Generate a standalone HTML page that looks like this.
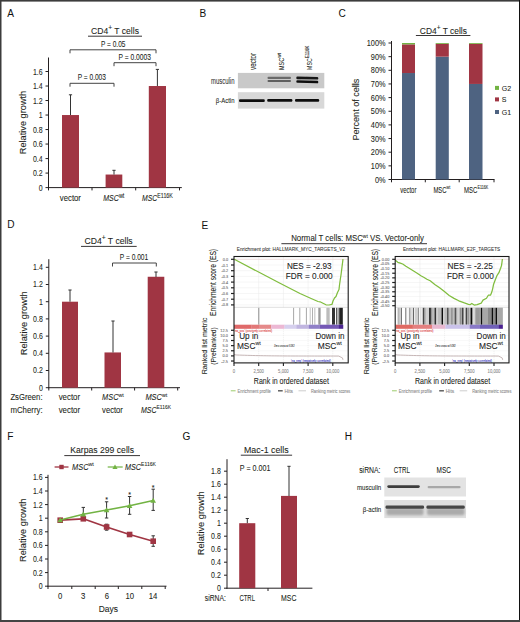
<!DOCTYPE html>
<html><head><meta charset="utf-8"><style>
html,body{margin:0;padding:0;background:#fff;}
svg{display:block;}
text{font-family:"Liberation Sans",sans-serif;}
</style></head><body>
<svg width="520" height="622" viewBox="0 0 520 622">
<rect x="0.00" y="0.00" width="520.00" height="622.00" fill="#fff"/>
<text transform="translate(7.30,17.16) scale(0.8800,1)" font-size="11.50" fill="#111" stroke="#111" stroke-width="0"><tspan y="0">A</tspan></text>
<text transform="translate(199.50,17.46) scale(0.8800,1)" font-size="11.50" fill="#111" stroke="#111" stroke-width="0"><tspan y="0">B</tspan></text>
<text transform="translate(338.50,17.46) scale(0.8800,1)" font-size="11.50" fill="#111" stroke="#111" stroke-width="0"><tspan y="0">C</tspan></text>
<text transform="translate(7.30,228.46) scale(0.8800,1)" font-size="11.50" fill="#111" stroke="#111" stroke-width="0"><tspan y="0">D</tspan></text>
<text transform="translate(201.50,228.66) scale(0.8800,1)" font-size="11.50" fill="#111" stroke="#111" stroke-width="0"><tspan y="0">E</tspan></text>
<text transform="translate(7.30,440.26) scale(0.8800,1)" font-size="11.50" fill="#111" stroke="#111" stroke-width="0"><tspan y="0">F</tspan></text>
<text transform="translate(182.50,440.26) scale(0.8800,1)" font-size="11.50" fill="#111" stroke="#111" stroke-width="0"><tspan y="0">G</tspan></text>
<text transform="translate(344.80,439.56) scale(0.8800,1)" font-size="11.50" fill="#111" stroke="#111" stroke-width="0"><tspan y="0">H</tspan></text>
<line x1="48.50" y1="57.50" x2="48.50" y2="188.10" stroke="#231f20" stroke-width="1"/>
<line x1="48.00" y1="187.60" x2="181.80" y2="187.60" stroke="#231f20" stroke-width="1"/>
<line x1="45.50" y1="187.60" x2="48.50" y2="187.60" stroke="#231f20" stroke-width="1"/>
<text transform="translate(38.73,190.59) scale(0.8000,1)" font-size="8.70" fill="#231f20" stroke="#231f20" stroke-width="0.08"><tspan y="0">0</tspan></text>
<line x1="45.50" y1="173.09" x2="48.50" y2="173.09" stroke="#231f20" stroke-width="1"/>
<text transform="translate(32.92,176.08) scale(0.8000,1)" font-size="8.70" fill="#231f20" stroke="#231f20" stroke-width="0.08"><tspan y="0">0.2</tspan></text>
<line x1="45.50" y1="158.58" x2="48.50" y2="158.58" stroke="#231f20" stroke-width="1"/>
<text transform="translate(32.92,161.57) scale(0.8000,1)" font-size="8.70" fill="#231f20" stroke="#231f20" stroke-width="0.08"><tspan y="0">0.4</tspan></text>
<line x1="45.50" y1="144.06" x2="48.50" y2="144.06" stroke="#231f20" stroke-width="1"/>
<text transform="translate(32.92,147.06) scale(0.8000,1)" font-size="8.70" fill="#231f20" stroke="#231f20" stroke-width="0.08"><tspan y="0">0.6</tspan></text>
<line x1="45.50" y1="129.55" x2="48.50" y2="129.55" stroke="#231f20" stroke-width="1"/>
<text transform="translate(32.92,132.54) scale(0.8000,1)" font-size="8.70" fill="#231f20" stroke="#231f20" stroke-width="0.08"><tspan y="0">0.8</tspan></text>
<line x1="45.50" y1="115.04" x2="48.50" y2="115.04" stroke="#231f20" stroke-width="1"/>
<text transform="translate(38.73,118.03) scale(0.8000,1)" font-size="8.70" fill="#231f20" stroke="#231f20" stroke-width="0.08"><tspan y="0">1</tspan></text>
<line x1="45.50" y1="100.53" x2="48.50" y2="100.53" stroke="#231f20" stroke-width="1"/>
<text transform="translate(32.92,103.52) scale(0.8000,1)" font-size="8.70" fill="#231f20" stroke="#231f20" stroke-width="0.08"><tspan y="0">1.2</tspan></text>
<line x1="45.50" y1="86.02" x2="48.50" y2="86.02" stroke="#231f20" stroke-width="1"/>
<text transform="translate(32.92,89.01) scale(0.8000,1)" font-size="8.70" fill="#231f20" stroke="#231f20" stroke-width="0.08"><tspan y="0">1.4</tspan></text>
<line x1="45.50" y1="71.50" x2="48.50" y2="71.50" stroke="#231f20" stroke-width="1"/>
<text transform="translate(32.92,74.50) scale(0.8000,1)" font-size="8.70" fill="#231f20" stroke="#231f20" stroke-width="0.08"><tspan y="0">1.6</tspan></text>
<line x1="48.50" y1="187.60" x2="48.50" y2="190.40" stroke="#231f20" stroke-width="1"/>
<line x1="92.00" y1="187.60" x2="92.00" y2="190.40" stroke="#231f20" stroke-width="1"/>
<line x1="135.70" y1="187.60" x2="135.70" y2="190.40" stroke="#231f20" stroke-width="1"/>
<line x1="179.50" y1="187.60" x2="179.50" y2="190.40" stroke="#231f20" stroke-width="1"/>
<rect x="62.00" y="115.04" width="17.00" height="72.56" fill="#a03543"/>
<line x1="70.50" y1="94.80" x2="70.50" y2="115.00" stroke="#333" stroke-width="1"/>
<line x1="68.90" y1="94.80" x2="72.10" y2="94.80" stroke="#333" stroke-width="1"/>
<rect x="105.60" y="174.54" width="16.70" height="13.06" fill="#a03543"/>
<line x1="114.00" y1="170.30" x2="114.00" y2="174.60" stroke="#333" stroke-width="1"/>
<line x1="112.40" y1="170.30" x2="115.60" y2="170.30" stroke="#333" stroke-width="1"/>
<rect x="148.80" y="86.02" width="17.20" height="101.58" fill="#a03543"/>
<line x1="157.40" y1="69.40" x2="157.40" y2="86.00" stroke="#333" stroke-width="1"/>
<line x1="155.80" y1="69.40" x2="159.00" y2="69.40" stroke="#333" stroke-width="1"/>
<text transform="translate(59.80,201.00) scale(0.9268,1)" font-size="8.40" fill="#231f20" stroke="#231f20" stroke-width="0.08"><tspan y="0">vector</tspan></text>
<text transform="translate(103.20,201.00) scale(0.8406,1)" font-size="8.40" fill="#231f20" stroke="#231f20" stroke-width="0.08"><tspan y="0" font-style="italic">MSC</tspan><tspan font-size="6.55" y="-3.36">wt</tspan></text>
<text transform="translate(142.10,201.00) scale(0.8137,1)" font-size="8.40" fill="#231f20" stroke="#231f20" stroke-width="0.08"><tspan y="0" font-style="italic">MSC</tspan><tspan font-size="6.55" y="-3.36">E116K</tspan></text>
<text transform="translate(25.76,122.50) rotate(-90) scale(1.0014,1)" font-size="9.20" fill="#231f20" stroke="#231f20" stroke-width="0.08" text-anchor="middle"><tspan y="0">Relative growth</tspan></text>
<text transform="translate(91.00,33.80) scale(0.8767,1)" font-size="9.80" fill="#231f20" stroke="#231f20" stroke-width="0.08"><tspan y="0">CD4</tspan><tspan font-size="7.64" y="-3.92">+</tspan><tspan y="0"> T cells</tspan></text>
<line x1="88.00" y1="36.20" x2="142.00" y2="36.20" stroke="#231f20" stroke-width="0.9"/>
<polyline points="70.00,53.30 70.00,49.80 156.00,49.80 156.00,53.30" fill="none" stroke="#444" stroke-width="1" stroke-linejoin="round" stroke-linejoin="miter"/>
<text transform="translate(101.00,47.20) scale(0.7540,1)" font-size="8.70" fill="#231f20" stroke="#231f20" stroke-width="0.08"><tspan y="0">P = 0.05</tspan></text>
<polyline points="114.00,66.20 114.00,62.70 156.00,62.70 156.00,66.20" fill="none" stroke="#444" stroke-width="1" stroke-linejoin="round" stroke-linejoin="miter"/>
<text transform="translate(118.60,59.80) scale(0.7683,1)" font-size="8.70" fill="#231f20" stroke="#231f20" stroke-width="0.08"><tspan y="0">P = 0.0003</tspan></text>
<polyline points="70.00,86.70 70.00,83.30 114.00,83.30 114.00,86.70" fill="none" stroke="#444" stroke-width="1" stroke-linejoin="round" stroke-linejoin="miter"/>
<text transform="translate(77.70,80.20) scale(0.7581,1)" font-size="8.70" fill="#231f20" stroke="#231f20" stroke-width="0.08"><tspan y="0">P = 0.003</tspan></text>
<text transform="translate(255.90,69.90) rotate(-90) scale(0.7613,1)" font-size="8.20" fill="#231f20" stroke="#231f20" stroke-width="0.08"><tspan y="0">vector</tspan></text>
<text transform="translate(283.90,69.90) rotate(-90) scale(0.6750,1)" font-size="8.00" fill="#231f20" stroke="#231f20" stroke-width="0.08"><tspan y="0">MSC</tspan></text>
<text transform="translate(280.60,57.70) rotate(-90) scale(0.9057,1)" font-size="5.30" fill="#231f20" stroke="#231f20" stroke-width="0.08"><tspan y="0">wt</tspan></text>
<text transform="translate(312.30,69.90) rotate(-90) scale(0.6525,1)" font-size="8.00" fill="#231f20" stroke="#231f20" stroke-width="0.08"><tspan y="0">MSC</tspan></text>
<text transform="translate(309.40,58.10) rotate(-90) scale(0.7990,1)" font-size="5.30" fill="#231f20" stroke="#231f20" stroke-width="0.08"><tspan y="0">E116K</tspan></text>
<defs><linearGradient id="gb1" x1="0" x2="1" y1="0" y2="0"><stop offset="0" stop-color="#dedede"/><stop offset="0.5" stop-color="#d6d6d6"/><stop offset="1" stop-color="#d2d2d2"/></linearGradient><filter id="blur1" x="-10%" y="-100%" width="120%" height="300%"><feGaussianBlur stdDeviation="0.55 0.45"/></filter><filter id="blur2" x="-10%" y="-100%" width="120%" height="300%"><feGaussianBlur stdDeviation="0.9 0.9"/></filter></defs>
<rect x="237.90" y="72.90" width="86.40" height="15.40" fill="#c9c9c9"/>
<rect x="237.90" y="92.20" width="86.40" height="16.40" fill="#d8d8d8"/>
<g filter="url(#blur1)">
<rect x="267.50" y="76.80" width="23.50" height="2.20" fill="#6a6a6a" rx="1"/>
<rect x="267.50" y="79.90" width="23.50" height="2.20" fill="#5e5e5e" rx="1"/>
<rect x="296.30" y="76.70" width="22.00" height="2.70" fill="#141414" rx="1.2" transform="rotate(1.2 307 78)"/>
<rect x="296.30" y="80.40" width="22.00" height="2.70" fill="#101010" rx="1.2" transform="rotate(1.5 307 81.6)"/>
<rect x="239.00" y="99.30" width="25.80" height="2.70" fill="#0a0a0a" rx="1.2"/>
<rect x="267.20" y="99.10" width="25.20" height="2.70" fill="#0a0a0a" rx="1.2"/>
<rect x="295.00" y="99.10" width="24.20" height="2.70" fill="#0a0a0a" rx="1.2"/>
</g>
<text transform="translate(211.00,83.80) scale(0.7090,1)" font-size="8.40" fill="#333" stroke="#333" stroke-width="0.08"><tspan y="0">musculin</tspan></text>
<text transform="translate(215.80,102.80) scale(0.7656,1)" font-size="7.80" fill="#231f20" stroke="#231f20" stroke-width="0.08"><tspan y="0">β-Actin</tspan></text>
<line x1="391.50" y1="41.00" x2="391.50" y2="180.00" stroke="#231f20" stroke-width="1"/>
<line x1="391.00" y1="179.50" x2="494.50" y2="179.50" stroke="#231f20" stroke-width="1"/>
<line x1="388.50" y1="179.50" x2="391.50" y2="179.50" stroke="#231f20" stroke-width="1"/>
<text transform="translate(374.96,182.66) scale(0.8000,1)" font-size="9.20" fill="#231f20" stroke="#231f20" stroke-width="0.08"><tspan y="0">0%</tspan></text>
<line x1="388.50" y1="165.85" x2="391.50" y2="165.85" stroke="#231f20" stroke-width="1"/>
<text transform="translate(370.87,169.01) scale(0.8000,1)" font-size="9.20" fill="#231f20" stroke="#231f20" stroke-width="0.08"><tspan y="0">10%</tspan></text>
<line x1="388.50" y1="152.20" x2="391.50" y2="152.20" stroke="#231f20" stroke-width="1"/>
<text transform="translate(370.87,155.36) scale(0.8000,1)" font-size="9.20" fill="#231f20" stroke="#231f20" stroke-width="0.08"><tspan y="0">20%</tspan></text>
<line x1="388.50" y1="138.55" x2="391.50" y2="138.55" stroke="#231f20" stroke-width="1"/>
<text transform="translate(370.87,141.71) scale(0.8000,1)" font-size="9.20" fill="#231f20" stroke="#231f20" stroke-width="0.08"><tspan y="0">30%</tspan></text>
<line x1="388.50" y1="124.90" x2="391.50" y2="124.90" stroke="#231f20" stroke-width="1"/>
<text transform="translate(370.87,128.06) scale(0.8000,1)" font-size="9.20" fill="#231f20" stroke="#231f20" stroke-width="0.08"><tspan y="0">40%</tspan></text>
<line x1="388.50" y1="111.25" x2="391.50" y2="111.25" stroke="#231f20" stroke-width="1"/>
<text transform="translate(370.87,114.41) scale(0.8000,1)" font-size="9.20" fill="#231f20" stroke="#231f20" stroke-width="0.08"><tspan y="0">50%</tspan></text>
<line x1="388.50" y1="97.60" x2="391.50" y2="97.60" stroke="#231f20" stroke-width="1"/>
<text transform="translate(370.87,100.76) scale(0.8000,1)" font-size="9.20" fill="#231f20" stroke="#231f20" stroke-width="0.08"><tspan y="0">60%</tspan></text>
<line x1="388.50" y1="83.95" x2="391.50" y2="83.95" stroke="#231f20" stroke-width="1"/>
<text transform="translate(370.87,87.11) scale(0.8000,1)" font-size="9.20" fill="#231f20" stroke="#231f20" stroke-width="0.08"><tspan y="0">70%</tspan></text>
<line x1="388.50" y1="70.30" x2="391.50" y2="70.30" stroke="#231f20" stroke-width="1"/>
<text transform="translate(370.87,73.46) scale(0.8000,1)" font-size="9.20" fill="#231f20" stroke="#231f20" stroke-width="0.08"><tspan y="0">80%</tspan></text>
<line x1="388.50" y1="56.65" x2="391.50" y2="56.65" stroke="#231f20" stroke-width="1"/>
<text transform="translate(370.87,59.81) scale(0.8000,1)" font-size="9.20" fill="#231f20" stroke="#231f20" stroke-width="0.08"><tspan y="0">90%</tspan></text>
<line x1="388.50" y1="43.00" x2="391.50" y2="43.00" stroke="#231f20" stroke-width="1"/>
<text transform="translate(366.78,46.16) scale(0.8000,1)" font-size="9.20" fill="#231f20" stroke="#231f20" stroke-width="0.08"><tspan y="0">100%</tspan></text>
<line x1="391.50" y1="179.50" x2="391.50" y2="182.30" stroke="#231f20" stroke-width="1"/>
<line x1="425.30" y1="179.50" x2="425.30" y2="182.30" stroke="#231f20" stroke-width="1"/>
<line x1="459.20" y1="179.50" x2="459.20" y2="182.30" stroke="#231f20" stroke-width="1"/>
<line x1="494.00" y1="179.50" x2="494.00" y2="182.30" stroke="#231f20" stroke-width="1"/>
<rect x="402.00" y="73.03" width="13.00" height="106.47" fill="#4e6381"/>
<rect x="402.00" y="44.37" width="13.00" height="28.66" fill="#a03543"/>
<rect x="402.00" y="43.00" width="13.00" height="1.37" fill="#72b343"/>
<rect x="435.70" y="56.65" width="13.10" height="122.85" fill="#4e6381"/>
<rect x="435.70" y="43.82" width="13.10" height="12.83" fill="#a03543"/>
<rect x="435.70" y="43.00" width="13.10" height="0.82" fill="#72b343"/>
<rect x="469.00" y="83.95" width="13.50" height="95.55" fill="#4e6381"/>
<rect x="469.00" y="43.82" width="13.50" height="40.13" fill="#a03543"/>
<rect x="469.00" y="43.00" width="13.50" height="0.82" fill="#72b343"/>
<text transform="translate(400.20,192.60) scale(0.7255,1)" font-size="8.20" fill="#231f20" stroke="#231f20" stroke-width="0.08"><tspan y="0">vector</tspan></text>
<text transform="translate(433.40,192.60) scale(0.7251,1)" font-size="8.20" fill="#231f20" stroke="#231f20" stroke-width="0.08"><tspan y="0">MSC</tspan><tspan font-size="5.08" y="-3.28">wt</tspan></text>
<text transform="translate(464.00,192.60) scale(0.7369,1)" font-size="8.20" fill="#231f20" stroke="#231f20" stroke-width="0.08"><tspan y="0">MSC</tspan><tspan font-size="5.08" y="-3.28">E116K</tspan></text>
<text transform="translate(359.10,109.60) rotate(-90) scale(1.0077,1)" font-size="9.00" fill="#231f20" stroke="#231f20" stroke-width="0.08" text-anchor="middle"><tspan y="0">Percent of cells</tspan></text>
<text transform="translate(419.80,33.80) scale(0.9600,1)" font-size="8.80" fill="#231f20" stroke="#231f20" stroke-width="0.08"><tspan y="0">CD4</tspan><tspan font-size="6.86" y="-3.52">+</tspan><tspan y="0"> T cells</tspan></text>
<line x1="415.90" y1="35.50" x2="470.40" y2="35.50" stroke="#231f20" stroke-width="0.9"/>
<rect x="495.00" y="85.90" width="4.00" height="4.00" fill="#72b343"/>
<text transform="translate(501.70,90.80) scale(0.8800,1)" font-size="8.00" fill="#231f20" stroke="#231f20" stroke-width="0.08"><tspan y="0">G2</tspan></text>
<rect x="495.00" y="97.40" width="4.00" height="4.00" fill="#a03543"/>
<text transform="translate(501.70,102.30) scale(0.8800,1)" font-size="8.00" fill="#231f20" stroke="#231f20" stroke-width="0.08"><tspan y="0">S</tspan></text>
<rect x="495.00" y="110.00" width="4.00" height="4.00" fill="#4e6381"/>
<text transform="translate(501.70,114.90) scale(0.8800,1)" font-size="8.00" fill="#231f20" stroke="#231f20" stroke-width="0.08"><tspan y="0">G1</tspan></text>
<line x1="48.80" y1="259.20" x2="48.80" y2="388.20" stroke="#231f20" stroke-width="1"/>
<line x1="48.30" y1="387.70" x2="180.00" y2="387.70" stroke="#231f20" stroke-width="1"/>
<line x1="45.80" y1="387.70" x2="48.80" y2="387.70" stroke="#231f20" stroke-width="1"/>
<text transform="translate(38.93,390.69) scale(0.8000,1)" font-size="8.70" fill="#231f20" stroke="#231f20" stroke-width="0.08"><tspan y="0">0</tspan></text>
<line x1="45.80" y1="370.50" x2="48.80" y2="370.50" stroke="#231f20" stroke-width="1"/>
<text transform="translate(33.12,373.49) scale(0.8000,1)" font-size="8.70" fill="#231f20" stroke="#231f20" stroke-width="0.08"><tspan y="0">0.2</tspan></text>
<line x1="45.80" y1="353.30" x2="48.80" y2="353.30" stroke="#231f20" stroke-width="1"/>
<text transform="translate(33.12,356.29) scale(0.8000,1)" font-size="8.70" fill="#231f20" stroke="#231f20" stroke-width="0.08"><tspan y="0">0.4</tspan></text>
<line x1="45.80" y1="336.10" x2="48.80" y2="336.10" stroke="#231f20" stroke-width="1"/>
<text transform="translate(33.12,339.09) scale(0.8000,1)" font-size="8.70" fill="#231f20" stroke="#231f20" stroke-width="0.08"><tspan y="0">0.6</tspan></text>
<line x1="45.80" y1="318.90" x2="48.80" y2="318.90" stroke="#231f20" stroke-width="1"/>
<text transform="translate(33.12,321.89) scale(0.8000,1)" font-size="8.70" fill="#231f20" stroke="#231f20" stroke-width="0.08"><tspan y="0">0.8</tspan></text>
<line x1="45.80" y1="301.70" x2="48.80" y2="301.70" stroke="#231f20" stroke-width="1"/>
<text transform="translate(38.93,304.69) scale(0.8000,1)" font-size="8.70" fill="#231f20" stroke="#231f20" stroke-width="0.08"><tspan y="0">1</tspan></text>
<line x1="45.80" y1="284.50" x2="48.80" y2="284.50" stroke="#231f20" stroke-width="1"/>
<text transform="translate(33.12,287.49) scale(0.8000,1)" font-size="8.70" fill="#231f20" stroke="#231f20" stroke-width="0.08"><tspan y="0">1.2</tspan></text>
<line x1="45.80" y1="267.30" x2="48.80" y2="267.30" stroke="#231f20" stroke-width="1"/>
<text transform="translate(33.12,270.29) scale(0.8000,1)" font-size="8.70" fill="#231f20" stroke="#231f20" stroke-width="0.08"><tspan y="0">1.4</tspan></text>
<line x1="48.80" y1="387.70" x2="48.80" y2="390.50" stroke="#231f20" stroke-width="1"/>
<line x1="91.70" y1="387.70" x2="91.70" y2="390.50" stroke="#231f20" stroke-width="1"/>
<line x1="134.60" y1="387.70" x2="134.60" y2="390.50" stroke="#231f20" stroke-width="1"/>
<line x1="177.70" y1="387.70" x2="177.70" y2="390.50" stroke="#231f20" stroke-width="1"/>
<rect x="62.00" y="301.70" width="16.00" height="86.00" fill="#a03543"/>
<line x1="70.00" y1="290.00" x2="70.00" y2="301.70" stroke="#333" stroke-width="1"/>
<line x1="68.40" y1="290.00" x2="71.60" y2="290.00" stroke="#333" stroke-width="1"/>
<rect x="104.50" y="352.44" width="16.50" height="35.26" fill="#a03543"/>
<line x1="113.00" y1="321.00" x2="113.00" y2="352.50" stroke="#333" stroke-width="1"/>
<line x1="111.40" y1="321.00" x2="114.60" y2="321.00" stroke="#333" stroke-width="1"/>
<rect x="147.70" y="276.76" width="16.60" height="110.94" fill="#a03543"/>
<line x1="156.00" y1="272.00" x2="156.00" y2="277.00" stroke="#333" stroke-width="1"/>
<line x1="154.40" y1="272.00" x2="157.60" y2="272.00" stroke="#333" stroke-width="1"/>
<polyline points="112.50,266.50 112.50,263.00 156.30,263.00 156.30,266.50" fill="none" stroke="#444" stroke-width="1" stroke-linejoin="round" stroke-linejoin="miter"/>
<text transform="translate(119.80,259.70) scale(0.7634,1)" font-size="8.70" fill="#231f20" stroke="#231f20" stroke-width="0.08"><tspan y="0">P = 0.001</tspan></text>
<text transform="translate(84.40,244.40) scale(0.8822,1)" font-size="9.80" fill="#231f20" stroke="#231f20" stroke-width="0.08"><tspan y="0">CD4</tspan><tspan font-size="7.64" y="-3.92">+</tspan><tspan y="0"> T cells</tspan></text>
<line x1="81.00" y1="246.40" x2="136.70" y2="246.40" stroke="#231f20" stroke-width="0.9"/>
<text transform="translate(26.76,323.30) rotate(-90) scale(1.0093,1)" font-size="9.20" fill="#231f20" stroke="#231f20" stroke-width="0.08" text-anchor="middle"><tspan y="0">Relative growth</tspan></text>
<text transform="translate(10.40,400.00) scale(0.8983,1)" font-size="8.60" fill="#231f20" stroke="#231f20" stroke-width="0.08"><tspan y="0">ZsGreen:</tspan></text>
<text transform="translate(10.40,412.60) scale(0.9107,1)" font-size="8.60" fill="#231f20" stroke="#231f20" stroke-width="0.08"><tspan y="0">mCherry:</tspan></text>
<text transform="translate(58.65,400.00) scale(0.9180,1)" font-size="8.60" fill="#231f20" stroke="#231f20" stroke-width="0.08"><tspan y="0">vector</tspan></text>
<text transform="translate(58.65,412.60) scale(0.9180,1)" font-size="8.60" fill="#231f20" stroke="#231f20" stroke-width="0.08"><tspan y="0">vector</tspan></text>
<text transform="translate(102.10,400.00) scale(0.8595,1)" font-size="8.60" fill="#231f20" stroke="#231f20" stroke-width="0.08"><tspan y="0" font-style="italic">MSC</tspan><tspan font-size="6.02" y="-3.44">wt</tspan></text>
<text transform="translate(102.10,412.60) scale(0.8881,1)" font-size="8.60" fill="#231f20" stroke="#231f20" stroke-width="0.08"><tspan y="0">vector</tspan></text>
<text transform="translate(145.40,400.00) scale(0.8674,1)" font-size="8.60" fill="#231f20" stroke="#231f20" stroke-width="0.08"><tspan y="0" font-style="italic">MSC</tspan><tspan font-size="6.02" y="-3.44">wt</tspan></text>
<text transform="translate(141.00,412.60) scale(0.8165,1)" font-size="8.60" fill="#231f20" stroke="#231f20" stroke-width="0.08"><tspan y="0" font-style="italic">MSC</tspan><tspan font-size="6.02" y="-3.44">E116K</tspan></text>
<text transform="translate(291.20,241.30) scale(0.8938,1)" font-size="8.80" fill="#231f20" stroke="#231f20" stroke-width="0.08"><tspan y="0">Normal T cells: MSC</tspan><tspan font-size="5.46" y="-3.52">wt</tspan><tspan y="0"> VS. Vector-only</tspan></text>
<line x1="281.40" y1="243.70" x2="427.00" y2="243.70" stroke="#231f20" stroke-width="0.9"/>
<defs><filter id="blur0" x="-5%" y="-5%" width="110%" height="110%"><feGaussianBlur stdDeviation="0.35 0"/></filter></defs>
<text transform="translate(236.70,251.10) scale(0.8559,1)" font-size="5.60" fill="#333" stroke="#333" stroke-width="0.08"><tspan y="0">Enrichment plot: HALLMARK_MYC_TARGETS_V2</tspan></text>
<line x1="234.00" y1="259.30" x2="348.20" y2="259.30" stroke="#ececec" stroke-width="0.5"/>
<line x1="234.00" y1="265.00" x2="348.20" y2="265.00" stroke="#ececec" stroke-width="0.5"/>
<line x1="234.00" y1="270.70" x2="348.20" y2="270.70" stroke="#ececec" stroke-width="0.5"/>
<line x1="234.00" y1="276.40" x2="348.20" y2="276.40" stroke="#ececec" stroke-width="0.5"/>
<line x1="234.00" y1="282.10" x2="348.20" y2="282.10" stroke="#ececec" stroke-width="0.5"/>
<line x1="234.00" y1="287.80" x2="348.20" y2="287.80" stroke="#ececec" stroke-width="0.5"/>
<line x1="234.00" y1="293.50" x2="348.20" y2="293.50" stroke="#ececec" stroke-width="0.5"/>
<line x1="234.00" y1="299.20" x2="348.20" y2="299.20" stroke="#ececec" stroke-width="0.5"/>
<line x1="234.00" y1="304.90" x2="348.20" y2="304.90" stroke="#ececec" stroke-width="0.5"/>
<line x1="258.70" y1="256.50" x2="258.70" y2="307.30" stroke="#e8e8e8" stroke-width="0.5"/>
<line x1="283.40" y1="256.50" x2="283.40" y2="307.30" stroke="#e8e8e8" stroke-width="0.5"/>
<line x1="308.10" y1="256.50" x2="308.10" y2="307.30" stroke="#e8e8e8" stroke-width="0.5"/>
<line x1="332.80" y1="256.50" x2="332.80" y2="307.30" stroke="#e8e8e8" stroke-width="0.5"/>
<line x1="234.00" y1="259.30" x2="348.20" y2="259.30" stroke="#ead0d0" stroke-width="0.6"/>
<line x1="231.00" y1="259.30" x2="234.00" y2="259.30" stroke="#222" stroke-width="1.2"/>
<text transform="translate(222.82,260.81) scale(0.8800,1)" font-size="4.40" fill="#666" stroke="#666" stroke-width="0.08"><tspan y="0">0.0</tspan></text>
<line x1="231.00" y1="265.00" x2="234.00" y2="265.00" stroke="#222" stroke-width="1.2"/>
<text transform="translate(221.53,266.51) scale(0.8800,1)" font-size="4.40" fill="#666" stroke="#666" stroke-width="0.08"><tspan y="0">-0.1</tspan></text>
<line x1="231.00" y1="270.70" x2="234.00" y2="270.70" stroke="#222" stroke-width="1.2"/>
<text transform="translate(221.53,272.21) scale(0.8800,1)" font-size="4.40" fill="#666" stroke="#666" stroke-width="0.08"><tspan y="0">-0.2</tspan></text>
<line x1="231.00" y1="276.40" x2="234.00" y2="276.40" stroke="#222" stroke-width="1.2"/>
<text transform="translate(221.53,277.91) scale(0.8800,1)" font-size="4.40" fill="#666" stroke="#666" stroke-width="0.08"><tspan y="0">-0.3</tspan></text>
<line x1="231.00" y1="282.10" x2="234.00" y2="282.10" stroke="#222" stroke-width="1.2"/>
<text transform="translate(221.53,283.61) scale(0.8800,1)" font-size="4.40" fill="#666" stroke="#666" stroke-width="0.08"><tspan y="0">-0.4</tspan></text>
<line x1="231.00" y1="287.80" x2="234.00" y2="287.80" stroke="#222" stroke-width="1.2"/>
<text transform="translate(221.53,289.31) scale(0.8800,1)" font-size="4.40" fill="#666" stroke="#666" stroke-width="0.08"><tspan y="0">-0.5</tspan></text>
<line x1="231.00" y1="293.50" x2="234.00" y2="293.50" stroke="#222" stroke-width="1.2"/>
<text transform="translate(221.53,295.01) scale(0.8800,1)" font-size="4.40" fill="#666" stroke="#666" stroke-width="0.08"><tspan y="0">-0.6</tspan></text>
<line x1="231.00" y1="299.20" x2="234.00" y2="299.20" stroke="#222" stroke-width="1.2"/>
<text transform="translate(221.53,300.71) scale(0.8800,1)" font-size="4.40" fill="#666" stroke="#666" stroke-width="0.08"><tspan y="0">-0.7</tspan></text>
<line x1="231.00" y1="304.90" x2="234.00" y2="304.90" stroke="#222" stroke-width="1.2"/>
<text transform="translate(221.53,306.41) scale(0.8800,1)" font-size="4.40" fill="#666" stroke="#666" stroke-width="0.08"><tspan y="0">-0.8</tspan></text>
<line x1="234.00" y1="307.30" x2="348.20" y2="307.30" stroke="#c8c8c8" stroke-width="0.6"/>
<g filter="url(#blur0)">
<rect x="258.30" y="307.80" width="1.00" height="16.90" fill="#888"/>
<rect x="293.10" y="307.80" width="1.00" height="16.90" fill="#a8a8a8"/>
<rect x="299.30" y="307.80" width="1.00" height="16.90" fill="#a8a8a8"/>
<rect x="305.90" y="307.80" width="1.00" height="16.90" fill="#a8a8a8"/>
<rect x="309.70" y="307.80" width="1.00" height="16.90" fill="#c4c4c4"/>
<rect x="312.00" y="307.80" width="1.00" height="16.90" fill="#b0b0b0"/>
<rect x="314.20" y="307.80" width="1.20" height="16.90" fill="#c8c8c8"/>
<rect x="318.30" y="307.80" width="2.30" height="16.90" fill="#999"/>
<rect x="326.10" y="307.80" width="4.00" height="16.90" fill="#cfcfcf"/>
<rect x="327.50" y="307.80" width="1.00" height="16.90" fill="#aaa"/>
<rect x="332.00" y="307.80" width="3.00" height="16.90" fill="#333"/>
<rect x="336.00" y="307.80" width="0.90" height="16.90" fill="#444"/>
<rect x="337.30" y="307.80" width="1.60" height="16.90" fill="#999"/>
<rect x="339.20" y="307.80" width="3.60" height="16.90" fill="#222"/>
</g>
<rect x="234.00" y="324.70" width="17.75" height="4.10" fill="#e06a6a"/>
<rect x="251.60" y="324.70" width="8.25" height="4.10" fill="#e27878"/>
<rect x="259.70" y="324.70" width="11.65" height="4.10" fill="#e58a8a"/>
<rect x="271.20" y="324.70" width="13.45" height="4.10" fill="#ecb8d4"/>
<rect x="284.50" y="324.70" width="11.95" height="4.10" fill="#d6d0ee"/>
<rect x="296.30" y="324.70" width="12.75" height="4.10" fill="#c0b5e0"/>
<rect x="308.90" y="324.70" width="10.85" height="4.10" fill="#9080c8"/>
<rect x="319.60" y="324.70" width="19.45" height="4.10" fill="#7558b5"/>
<rect x="338.90" y="324.70" width="4.35" height="4.10" fill="#4b2590"/>
<line x1="234.00" y1="330.27" x2="348.20" y2="330.27" stroke="#f0f0f0" stroke-width="0.4"/>
<line x1="234.00" y1="335.40" x2="348.20" y2="335.40" stroke="#f0f0f0" stroke-width="0.4"/>
<line x1="234.00" y1="340.52" x2="348.20" y2="340.52" stroke="#f0f0f0" stroke-width="0.4"/>
<line x1="234.00" y1="345.65" x2="348.20" y2="345.65" stroke="#f0f0f0" stroke-width="0.4"/>
<line x1="234.00" y1="350.77" x2="348.20" y2="350.77" stroke="#f0f0f0" stroke-width="0.4"/>
<line x1="234.00" y1="355.90" x2="348.20" y2="355.90" stroke="#f0f0f0" stroke-width="0.4"/>
<line x1="234.00" y1="361.02" x2="348.20" y2="361.02" stroke="#f0f0f0" stroke-width="0.4"/>
<line x1="258.70" y1="328.80" x2="258.70" y2="362.90" stroke="#dddddd" stroke-width="0.5" stroke-dasharray="1,1"/>
<line x1="283.40" y1="328.80" x2="283.40" y2="362.90" stroke="#dddddd" stroke-width="0.5" stroke-dasharray="1,1"/>
<line x1="308.10" y1="328.80" x2="308.10" y2="362.90" stroke="#dddddd" stroke-width="0.5" stroke-dasharray="1,1"/>
<line x1="332.80" y1="328.80" x2="332.80" y2="362.90" stroke="#dddddd" stroke-width="0.5" stroke-dasharray="1,1"/>
<line x1="231.00" y1="330.27" x2="234.00" y2="330.27" stroke="#222" stroke-width="1.2"/>
<text transform="translate(220.36,331.79) scale(0.8800,1)" font-size="4.40" fill="#666" stroke="#666" stroke-width="0.08"><tspan y="0">12.5</tspan></text>
<line x1="231.00" y1="335.40" x2="234.00" y2="335.40" stroke="#222" stroke-width="1.2"/>
<text transform="translate(220.36,336.91) scale(0.8800,1)" font-size="4.40" fill="#666" stroke="#666" stroke-width="0.08"><tspan y="0">10.0</tspan></text>
<line x1="231.00" y1="340.52" x2="234.00" y2="340.52" stroke="#222" stroke-width="1.2"/>
<text transform="translate(222.52,342.04) scale(0.8800,1)" font-size="4.40" fill="#666" stroke="#666" stroke-width="0.08"><tspan y="0">7.5</tspan></text>
<line x1="231.00" y1="345.65" x2="234.00" y2="345.65" stroke="#222" stroke-width="1.2"/>
<text transform="translate(222.52,347.16) scale(0.8800,1)" font-size="4.40" fill="#666" stroke="#666" stroke-width="0.08"><tspan y="0">5.0</tspan></text>
<line x1="231.00" y1="350.77" x2="234.00" y2="350.77" stroke="#222" stroke-width="1.2"/>
<text transform="translate(222.52,352.29) scale(0.8800,1)" font-size="4.40" fill="#666" stroke="#666" stroke-width="0.08"><tspan y="0">2.5</tspan></text>
<line x1="231.00" y1="355.90" x2="234.00" y2="355.90" stroke="#222" stroke-width="1.2"/>
<text transform="translate(222.52,357.41) scale(0.8800,1)" font-size="4.40" fill="#666" stroke="#666" stroke-width="0.08"><tspan y="0">0.0</tspan></text>
<line x1="231.00" y1="361.02" x2="234.00" y2="361.02" stroke="#222" stroke-width="1.2"/>
<text transform="translate(221.23,362.54) scale(0.8800,1)" font-size="4.40" fill="#666" stroke="#666" stroke-width="0.08"><tspan y="0">-2.5</tspan></text>
<polyline points="234.00,354.60 236.68,354.97 239.37,355.07 242.05,355.17 244.74,355.26 247.42,355.35 250.10,355.42 252.79,355.49 255.47,355.56 258.16,355.62 260.84,355.67 263.53,355.72 266.21,355.76 268.89,355.80 271.58,355.84 274.26,355.87 276.95,355.89 279.63,355.92 282.31,355.94 285.00,355.96 287.68,355.97 290.37,355.99 293.05,356.00 295.73,356.01 298.42,356.02 301.10,356.03 303.79,356.03 306.47,356.04 309.16,356.04 311.84,356.04 314.52,356.05 317.21,356.05 319.89,356.05 322.58,356.05 325.26,356.05 327.94,356.05 330.63,356.05 333.31,356.05 336.00,356.05 338.68,356.05 342.45,357.90 343.00,359.90" fill="none" stroke="#bfaeae" stroke-width="0.9" stroke-linejoin="round"/>
<text transform="translate(234.50,331.80) scale(0.7419,1)" font-size="3.80" fill="#e04545" stroke="#e04545" stroke-width="0.08"><tspan y="0">'na_pos' (positively correlated)</tspan></text>
<text transform="translate(291.00,362.00) scale(0.7999,1)" font-size="3.60" fill="#3535c0" stroke="#3535c0" stroke-width="0.08"><tspan y="0">'na_neg' (negatively correlated)</tspan></text>
<text transform="translate(274.00,347.40) scale(0.6863,1)" font-size="3.60" fill="#333" stroke="#333" stroke-width="0.08"><tspan y="0">Zero cross at 5182</tspan></text>
<text transform="translate(239.20,338.60) scale(0.9297,1)" font-size="8.80" fill="#222" stroke="#222" stroke-width="0.08"><tspan y="0">Up in</tspan></text>
<text transform="translate(236.90,348.70) scale(0.9475,1)" font-size="8.80" fill="#222" stroke="#222" stroke-width="0.08"><tspan y="0">MSC</tspan><tspan font-size="5.46" y="-3.52">wt</tspan></text>
<text transform="translate(315.40,338.60) scale(0.9184,1)" font-size="8.80" fill="#222" stroke="#222" stroke-width="0.08"><tspan y="0">Down in</tspan></text>
<text transform="translate(317.70,348.70) scale(0.9595,1)" font-size="8.80" fill="#222" stroke="#222" stroke-width="0.08"><tspan y="0">MSC</tspan><tspan font-size="5.46" y="-3.52">wt</tspan></text>
<line x1="234.00" y1="362.90" x2="234.00" y2="365.90" stroke="#222" stroke-width="1.1"/>
<text transform="translate(232.83,373.30) scale(0.8800,1)" font-size="4.80" fill="#888" stroke="#888" stroke-width="0.08"><tspan y="0">0</tspan></text>
<line x1="258.70" y1="362.90" x2="258.70" y2="365.90" stroke="#222" stroke-width="1.1"/>
<text transform="translate(253.41,373.30) scale(0.8800,1)" font-size="4.80" fill="#888" stroke="#888" stroke-width="0.08"><tspan y="0">2,500</tspan></text>
<line x1="283.40" y1="362.90" x2="283.40" y2="365.90" stroke="#222" stroke-width="1.1"/>
<text transform="translate(278.11,373.30) scale(0.8800,1)" font-size="4.80" fill="#888" stroke="#888" stroke-width="0.08"><tspan y="0">5,000</tspan></text>
<line x1="308.10" y1="362.90" x2="308.10" y2="365.90" stroke="#222" stroke-width="1.1"/>
<text transform="translate(302.81,373.30) scale(0.8800,1)" font-size="4.80" fill="#888" stroke="#888" stroke-width="0.08"><tspan y="0">7,500</tspan></text>
<line x1="332.80" y1="362.90" x2="332.80" y2="365.90" stroke="#222" stroke-width="1.1"/>
<text transform="translate(326.34,373.30) scale(0.8800,1)" font-size="4.80" fill="#888" stroke="#888" stroke-width="0.08"><tspan y="0">10,000</tspan></text>
<polyline points="234.30,259.30 260.00,272.80 280.00,283.30 300.00,293.50 310.00,298.00 318.00,301.50 320.00,301.80 326.00,304.80 329.00,305.00 332.00,304.30 333.00,301.00 334.50,298.00 336.00,296.50 337.50,292.50 339.00,289.50 339.50,285.00 340.50,278.00 341.00,275.00 342.00,267.00 343.00,259.20" fill="none" stroke="#80bd3e" stroke-width="1.25" stroke-linejoin="round"/>
<rect x="234.00" y="256.50" width="114.20" height="106.40" fill="none" stroke="#1a1a1a" stroke-width="1.1"/>
<text transform="translate(287.00,268.60) scale(0.9472,1)" font-size="8.60" fill="#222" stroke="#222" stroke-width="0.08"><tspan y="0">NES = -2.93</tspan></text>
<text transform="translate(285.80,278.80) scale(0.9592,1)" font-size="8.60" fill="#222" stroke="#222" stroke-width="0.08"><tspan y="0">FDR = 0.000</tspan></text>
<text transform="translate(216.39,282.40) rotate(-90) scale(0.7929,1)" font-size="8.40" fill="#231f20" stroke="#231f20" stroke-width="0.08" text-anchor="middle"><tspan y="0">Enrichment score (ES)</tspan></text>
<text transform="translate(207.32,346.00) rotate(-90) scale(0.9031,1)" font-size="7.90" fill="#231f20" stroke="#231f20" stroke-width="0.08" text-anchor="middle"><tspan y="0">Ranked list metric</tspan></text>
<text transform="translate(216.12,346.00) rotate(-90) scale(0.8373,1)" font-size="7.90" fill="#231f20" stroke="#231f20" stroke-width="0.08" text-anchor="middle"><tspan y="0">(PreRanked)</tspan></text>
<text transform="translate(253.80,383.80) scale(0.7495,1)" font-size="9.40" fill="#231f20" stroke="#231f20" stroke-width="0.08"><tspan y="0">Rank in ordered dataset</tspan></text>
<line x1="230.80" y1="390.80" x2="235.60" y2="390.80" stroke="#9ccc6c" stroke-width="1"/>
<text transform="translate(237.50,392.60) scale(0.8313,1)" font-size="5.00" fill="#888" stroke="#888" stroke-width="0.08"><tspan y="0">Enrichment profile</tspan></text>
<line x1="278.00" y1="390.80" x2="282.70" y2="390.80" stroke="#555" stroke-width="1.4"/>
<text transform="translate(284.60,392.60) scale(0.9755,1)" font-size="5.00" fill="#888" stroke="#888" stroke-width="0.08"><tspan y="0">Hits</tspan></text>
<line x1="298.50" y1="390.80" x2="306.00" y2="390.80" stroke="#aaa" stroke-width="0.6"/>
<text transform="translate(311.00,392.60) scale(0.7966,1)" font-size="5.00" fill="#888" stroke="#888" stroke-width="0.08"><tspan y="0">Ranking metric scores</tspan></text>
<text transform="translate(402.90,251.10) scale(0.8506,1)" font-size="5.60" fill="#333" stroke="#333" stroke-width="0.08"><tspan y="0">Enrichment plot: HALLMARK_E2F_TARGETS</tspan></text>
<line x1="395.20" y1="259.30" x2="509.00" y2="259.30" stroke="#ececec" stroke-width="0.5"/>
<line x1="395.20" y1="263.94" x2="509.00" y2="263.94" stroke="#ececec" stroke-width="0.5"/>
<line x1="395.20" y1="268.58" x2="509.00" y2="268.58" stroke="#ececec" stroke-width="0.5"/>
<line x1="395.20" y1="273.22" x2="509.00" y2="273.22" stroke="#ececec" stroke-width="0.5"/>
<line x1="395.20" y1="277.86" x2="509.00" y2="277.86" stroke="#ececec" stroke-width="0.5"/>
<line x1="395.20" y1="282.50" x2="509.00" y2="282.50" stroke="#ececec" stroke-width="0.5"/>
<line x1="395.20" y1="287.14" x2="509.00" y2="287.14" stroke="#ececec" stroke-width="0.5"/>
<line x1="395.20" y1="291.78" x2="509.00" y2="291.78" stroke="#ececec" stroke-width="0.5"/>
<line x1="395.20" y1="296.42" x2="509.00" y2="296.42" stroke="#ececec" stroke-width="0.5"/>
<line x1="395.20" y1="301.06" x2="509.00" y2="301.06" stroke="#ececec" stroke-width="0.5"/>
<line x1="395.20" y1="305.70" x2="509.00" y2="305.70" stroke="#ececec" stroke-width="0.5"/>
<line x1="419.90" y1="256.50" x2="419.90" y2="307.30" stroke="#e8e8e8" stroke-width="0.5"/>
<line x1="444.60" y1="256.50" x2="444.60" y2="307.30" stroke="#e8e8e8" stroke-width="0.5"/>
<line x1="469.30" y1="256.50" x2="469.30" y2="307.30" stroke="#e8e8e8" stroke-width="0.5"/>
<line x1="494.00" y1="256.50" x2="494.00" y2="307.30" stroke="#e8e8e8" stroke-width="0.5"/>
<line x1="395.20" y1="259.30" x2="509.00" y2="259.30" stroke="#ead0d0" stroke-width="0.6"/>
<line x1="392.20" y1="259.30" x2="395.20" y2="259.30" stroke="#222" stroke-width="1.2"/>
<text transform="translate(381.86,260.81) scale(0.8800,1)" font-size="4.40" fill="#666" stroke="#666" stroke-width="0.08"><tspan y="0">0.00</tspan></text>
<line x1="392.20" y1="263.94" x2="395.20" y2="263.94" stroke="#222" stroke-width="1.2"/>
<text transform="translate(380.57,265.45) scale(0.8800,1)" font-size="4.40" fill="#666" stroke="#666" stroke-width="0.08"><tspan y="0">-0.05</tspan></text>
<line x1="392.20" y1="268.58" x2="395.20" y2="268.58" stroke="#222" stroke-width="1.2"/>
<text transform="translate(380.57,270.09) scale(0.8800,1)" font-size="4.40" fill="#666" stroke="#666" stroke-width="0.08"><tspan y="0">-0.10</tspan></text>
<line x1="392.20" y1="273.22" x2="395.20" y2="273.22" stroke="#222" stroke-width="1.2"/>
<text transform="translate(380.57,274.73) scale(0.8800,1)" font-size="4.40" fill="#666" stroke="#666" stroke-width="0.08"><tspan y="0">-0.15</tspan></text>
<line x1="392.20" y1="277.86" x2="395.20" y2="277.86" stroke="#222" stroke-width="1.2"/>
<text transform="translate(380.57,279.37) scale(0.8800,1)" font-size="4.40" fill="#666" stroke="#666" stroke-width="0.08"><tspan y="0">-0.20</tspan></text>
<line x1="392.20" y1="282.50" x2="395.20" y2="282.50" stroke="#222" stroke-width="1.2"/>
<text transform="translate(380.57,284.01) scale(0.8800,1)" font-size="4.40" fill="#666" stroke="#666" stroke-width="0.08"><tspan y="0">-0.25</tspan></text>
<line x1="392.20" y1="287.14" x2="395.20" y2="287.14" stroke="#222" stroke-width="1.2"/>
<text transform="translate(380.57,288.65) scale(0.8800,1)" font-size="4.40" fill="#666" stroke="#666" stroke-width="0.08"><tspan y="0">-0.30</tspan></text>
<line x1="392.20" y1="291.78" x2="395.20" y2="291.78" stroke="#222" stroke-width="1.2"/>
<text transform="translate(380.57,293.29) scale(0.8800,1)" font-size="4.40" fill="#666" stroke="#666" stroke-width="0.08"><tspan y="0">-0.35</tspan></text>
<line x1="392.20" y1="296.42" x2="395.20" y2="296.42" stroke="#222" stroke-width="1.2"/>
<text transform="translate(380.57,297.93) scale(0.8800,1)" font-size="4.40" fill="#666" stroke="#666" stroke-width="0.08"><tspan y="0">-0.40</tspan></text>
<line x1="392.20" y1="301.06" x2="395.20" y2="301.06" stroke="#222" stroke-width="1.2"/>
<text transform="translate(380.57,302.57) scale(0.8800,1)" font-size="4.40" fill="#666" stroke="#666" stroke-width="0.08"><tspan y="0">-0.45</tspan></text>
<line x1="392.20" y1="305.70" x2="395.20" y2="305.70" stroke="#222" stroke-width="1.2"/>
<text transform="translate(380.57,307.21) scale(0.8800,1)" font-size="4.40" fill="#666" stroke="#666" stroke-width="0.08"><tspan y="0">-0.50</tspan></text>
<line x1="395.20" y1="307.30" x2="509.00" y2="307.30" stroke="#c8c8c8" stroke-width="0.6"/>
<g filter="url(#blur0)">
<rect x="429.50" y="307.80" width="73.20" height="16.90" fill="#bdbdbd"/>
<rect x="397.70" y="307.80" width="1.00" height="16.90" fill="#999"/>
<rect x="399.10" y="307.80" width="0.80" height="16.90" fill="#bbb"/>
<rect x="400.70" y="307.80" width="1.20" height="16.90" fill="#666"/>
<rect x="405.00" y="307.80" width="1.00" height="16.90" fill="#999"/>
<rect x="406.30" y="307.80" width="0.80" height="16.90" fill="#bbb"/>
<rect x="408.90" y="307.80" width="1.00" height="16.90" fill="#999"/>
<rect x="410.10" y="307.80" width="0.80" height="16.90" fill="#bbb"/>
<rect x="411.60" y="307.80" width="0.80" height="16.90" fill="#aaa"/>
<rect x="413.10" y="307.80" width="1.00" height="16.90" fill="#555"/>
<rect x="415.00" y="307.80" width="3.00" height="16.90" fill="#d0d0d0"/>
<rect x="418.10" y="307.80" width="1.00" height="16.90" fill="#888"/>
<rect x="420.50" y="307.80" width="0.80" height="16.90" fill="#bbb"/>
<rect x="422.70" y="307.80" width="1.80" height="16.90" fill="#444"/>
<rect x="424.80" y="307.80" width="0.80" height="16.90" fill="#888"/>
<rect x="426.00" y="307.80" width="3.00" height="16.90" fill="#d0d0d0"/>
<rect x="429.00" y="307.80" width="1.90" height="16.90" fill="#333"/>
<rect x="431.30" y="307.80" width="0.80" height="16.90" fill="#888"/>
<rect x="434.60" y="307.80" width="1.60" height="16.90" fill="#333"/>
<rect x="436.50" y="307.80" width="1.00" height="16.90" fill="#e8e8e8"/>
<rect x="441.60" y="307.80" width="1.40" height="16.90" fill="#111"/>
<rect x="443.40" y="307.80" width="1.00" height="16.90" fill="#dcdcdc"/>
<rect x="447.00" y="307.80" width="1.50" height="16.90" fill="#555"/>
<rect x="451.30" y="307.80" width="1.20" height="16.90" fill="#888"/>
<rect x="454.70" y="307.80" width="1.50" height="16.90" fill="#555"/>
<rect x="457.50" y="307.80" width="1.20" height="16.90" fill="#ddd"/>
<rect x="460.20" y="307.80" width="1.20" height="16.90" fill="#888"/>
<rect x="462.00" y="307.80" width="1.40" height="16.90" fill="#444"/>
<rect x="464.00" y="307.80" width="1.20" height="16.90" fill="#ddd"/>
<rect x="465.80" y="307.80" width="1.40" height="16.90" fill="#444"/>
<rect x="468.00" y="307.80" width="1.00" height="16.90" fill="#999"/>
<rect x="470.60" y="307.80" width="1.60" height="16.90" fill="#111"/>
<rect x="473.00" y="307.80" width="1.80" height="16.90" fill="#ddd"/>
<rect x="475.60" y="307.80" width="4.20" height="16.90" fill="#9a9a9a"/>
<rect x="480.80" y="307.80" width="1.50" height="16.90" fill="#111"/>
<rect x="482.60" y="307.80" width="5.40" height="16.90" fill="#a8a8a8"/>
<rect x="488.00" y="307.80" width="3.80" height="16.90" fill="#8a8a8a"/>
<rect x="491.70" y="307.80" width="1.60" height="16.90" fill="#111"/>
<rect x="493.60" y="307.80" width="2.00" height="16.90" fill="#8a8a8a"/>
<rect x="495.60" y="307.80" width="1.50" height="16.90" fill="#111"/>
<rect x="497.20" y="307.80" width="5.50" height="16.90" fill="#a8a8a8"/>
</g>
<rect x="395.50" y="324.70" width="17.45" height="4.10" fill="#e06a62"/>
<rect x="412.80" y="324.70" width="19.35" height="4.10" fill="#e48080"/>
<rect x="432.00" y="324.70" width="13.55" height="4.10" fill="#e8b8d0"/>
<rect x="445.40" y="324.70" width="24.45" height="4.10" fill="#cac2ea"/>
<rect x="469.70" y="324.70" width="10.45" height="4.10" fill="#8a7ac8"/>
<rect x="480.00" y="324.70" width="18.95" height="4.10" fill="#7060b8"/>
<rect x="498.80" y="324.70" width="4.05" height="4.10" fill="#4a2090"/>
<line x1="395.20" y1="330.27" x2="509.00" y2="330.27" stroke="#f0f0f0" stroke-width="0.4"/>
<line x1="395.20" y1="335.40" x2="509.00" y2="335.40" stroke="#f0f0f0" stroke-width="0.4"/>
<line x1="395.20" y1="340.52" x2="509.00" y2="340.52" stroke="#f0f0f0" stroke-width="0.4"/>
<line x1="395.20" y1="345.65" x2="509.00" y2="345.65" stroke="#f0f0f0" stroke-width="0.4"/>
<line x1="395.20" y1="350.77" x2="509.00" y2="350.77" stroke="#f0f0f0" stroke-width="0.4"/>
<line x1="395.20" y1="355.90" x2="509.00" y2="355.90" stroke="#f0f0f0" stroke-width="0.4"/>
<line x1="395.20" y1="361.02" x2="509.00" y2="361.02" stroke="#f0f0f0" stroke-width="0.4"/>
<line x1="419.90" y1="328.80" x2="419.90" y2="362.90" stroke="#dddddd" stroke-width="0.5" stroke-dasharray="1,1"/>
<line x1="444.60" y1="328.80" x2="444.60" y2="362.90" stroke="#dddddd" stroke-width="0.5" stroke-dasharray="1,1"/>
<line x1="469.30" y1="328.80" x2="469.30" y2="362.90" stroke="#dddddd" stroke-width="0.5" stroke-dasharray="1,1"/>
<line x1="494.00" y1="328.80" x2="494.00" y2="362.90" stroke="#dddddd" stroke-width="0.5" stroke-dasharray="1,1"/>
<line x1="392.20" y1="330.27" x2="395.20" y2="330.27" stroke="#222" stroke-width="1.2"/>
<text transform="translate(381.56,331.79) scale(0.8800,1)" font-size="4.40" fill="#666" stroke="#666" stroke-width="0.08"><tspan y="0">12.5</tspan></text>
<line x1="392.20" y1="335.40" x2="395.20" y2="335.40" stroke="#222" stroke-width="1.2"/>
<text transform="translate(381.56,336.91) scale(0.8800,1)" font-size="4.40" fill="#666" stroke="#666" stroke-width="0.08"><tspan y="0">10.0</tspan></text>
<line x1="392.20" y1="340.52" x2="395.20" y2="340.52" stroke="#222" stroke-width="1.2"/>
<text transform="translate(383.72,342.04) scale(0.8800,1)" font-size="4.40" fill="#666" stroke="#666" stroke-width="0.08"><tspan y="0">7.5</tspan></text>
<line x1="392.20" y1="345.65" x2="395.20" y2="345.65" stroke="#222" stroke-width="1.2"/>
<text transform="translate(383.72,347.16) scale(0.8800,1)" font-size="4.40" fill="#666" stroke="#666" stroke-width="0.08"><tspan y="0">5.0</tspan></text>
<line x1="392.20" y1="350.77" x2="395.20" y2="350.77" stroke="#222" stroke-width="1.2"/>
<text transform="translate(383.72,352.29) scale(0.8800,1)" font-size="4.40" fill="#666" stroke="#666" stroke-width="0.08"><tspan y="0">2.5</tspan></text>
<line x1="392.20" y1="355.90" x2="395.20" y2="355.90" stroke="#222" stroke-width="1.2"/>
<text transform="translate(383.72,357.41) scale(0.8800,1)" font-size="4.40" fill="#666" stroke="#666" stroke-width="0.08"><tspan y="0">0.0</tspan></text>
<line x1="392.20" y1="361.02" x2="395.20" y2="361.02" stroke="#222" stroke-width="1.2"/>
<text transform="translate(382.43,362.54) scale(0.8800,1)" font-size="4.40" fill="#666" stroke="#666" stroke-width="0.08"><tspan y="0">-2.5</tspan></text>
<polyline points="395.20,354.60 397.85,354.97 400.49,355.07 403.14,355.17 405.79,355.26 408.44,355.35 411.08,355.42 413.73,355.49 416.38,355.56 419.02,355.62 421.67,355.67 424.32,355.72 426.97,355.76 429.61,355.80 432.26,355.84 434.91,355.87 437.56,355.89 440.20,355.92 442.85,355.94 445.50,355.96 448.14,355.97 450.79,355.99 453.44,356.00 456.09,356.01 458.73,356.02 461.38,356.03 464.03,356.03 466.67,356.04 469.32,356.04 471.97,356.04 474.62,356.05 477.26,356.05 479.91,356.05 482.56,356.05 485.20,356.05 487.85,356.05 490.50,356.05 493.15,356.05 495.79,356.05 498.44,356.05 502.16,357.90 502.70,359.90" fill="none" stroke="#bfaeae" stroke-width="0.9" stroke-linejoin="round"/>
<text transform="translate(395.70,331.80) scale(0.7419,1)" font-size="3.80" fill="#e04545" stroke="#e04545" stroke-width="0.08"><tspan y="0">'na_pos' (positively correlated)</tspan></text>
<text transform="translate(452.20,362.00) scale(0.7999,1)" font-size="3.60" fill="#3535c0" stroke="#3535c0" stroke-width="0.08"><tspan y="0">'na_neg' (negatively correlated)</tspan></text>
<text transform="translate(435.20,347.40) scale(0.6863,1)" font-size="3.60" fill="#333" stroke="#333" stroke-width="0.08"><tspan y="0">Zero cross at 5182</tspan></text>
<text transform="translate(400.40,338.60) scale(0.9297,1)" font-size="8.80" fill="#222" stroke="#222" stroke-width="0.08"><tspan y="0">Up in</tspan></text>
<text transform="translate(398.10,348.70) scale(0.9475,1)" font-size="8.80" fill="#222" stroke="#222" stroke-width="0.08"><tspan y="0">MSC</tspan><tspan font-size="5.46" y="-3.52">wt</tspan></text>
<text transform="translate(476.60,338.60) scale(0.9184,1)" font-size="8.80" fill="#222" stroke="#222" stroke-width="0.08"><tspan y="0">Down in</tspan></text>
<text transform="translate(478.90,348.70) scale(0.9595,1)" font-size="8.80" fill="#222" stroke="#222" stroke-width="0.08"><tspan y="0">MSC</tspan><tspan font-size="5.46" y="-3.52">wt</tspan></text>
<line x1="395.20" y1="362.90" x2="395.20" y2="365.90" stroke="#222" stroke-width="1.1"/>
<text transform="translate(394.03,373.30) scale(0.8800,1)" font-size="4.80" fill="#888" stroke="#888" stroke-width="0.08"><tspan y="0">0</tspan></text>
<line x1="419.90" y1="362.90" x2="419.90" y2="365.90" stroke="#222" stroke-width="1.1"/>
<text transform="translate(414.61,373.30) scale(0.8800,1)" font-size="4.80" fill="#888" stroke="#888" stroke-width="0.08"><tspan y="0">2,500</tspan></text>
<line x1="444.60" y1="362.90" x2="444.60" y2="365.90" stroke="#222" stroke-width="1.1"/>
<text transform="translate(439.31,373.30) scale(0.8800,1)" font-size="4.80" fill="#888" stroke="#888" stroke-width="0.08"><tspan y="0">5,000</tspan></text>
<line x1="469.30" y1="362.90" x2="469.30" y2="365.90" stroke="#222" stroke-width="1.1"/>
<text transform="translate(464.01,373.30) scale(0.8800,1)" font-size="4.80" fill="#888" stroke="#888" stroke-width="0.08"><tspan y="0">7,500</tspan></text>
<line x1="494.00" y1="362.90" x2="494.00" y2="365.90" stroke="#222" stroke-width="1.1"/>
<text transform="translate(487.54,373.30) scale(0.8800,1)" font-size="4.80" fill="#888" stroke="#888" stroke-width="0.08"><tspan y="0">10,000</tspan></text>
<polyline points="395.40,260.30 397.80,262.30 400.30,263.10 402.70,264.00 405.90,266.30 409.20,268.30 413.20,270.80 417.20,273.20 421.30,276.00 423.70,277.20 426.90,279.20 430.20,280.80 434.80,284.40 439.60,287.80 444.40,291.60 449.20,295.50 454.00,298.40 458.80,300.80 463.70,302.70 468.50,304.40 470.40,304.60 471.80,303.50 474.20,305.10 477.10,304.60 478.50,304.10 481.20,303.20 483.00,300.10 486.50,298.30 488.30,295.20 490.50,295.20 491.80,292.10 492.70,288.60 493.60,284.20 495.30,279.80 497.10,275.30 498.90,272.70 500.60,268.30 501.50,265.60 502.00,262.10 502.40,259.00" fill="none" stroke="#80bd3e" stroke-width="1.25" stroke-linejoin="round"/>
<rect x="395.20" y="256.50" width="113.80" height="106.40" fill="none" stroke="#1a1a1a" stroke-width="1.1"/>
<text transform="translate(447.50,268.60) scale(0.9642,1)" font-size="8.60" fill="#222" stroke="#222" stroke-width="0.08"><tspan y="0">NES = -2.25</tspan></text>
<text transform="translate(447.00,278.80) scale(0.9572,1)" font-size="8.60" fill="#222" stroke="#222" stroke-width="0.08"><tspan y="0">FDR = 0.000</tspan></text>
<text transform="translate(377.59,282.40) rotate(-90) scale(0.7929,1)" font-size="8.40" fill="#231f20" stroke="#231f20" stroke-width="0.08" text-anchor="middle"><tspan y="0">Enrichment score (ES)</tspan></text>
<text transform="translate(368.52,346.00) rotate(-90) scale(0.9031,1)" font-size="7.90" fill="#231f20" stroke="#231f20" stroke-width="0.08" text-anchor="middle"><tspan y="0">Ranked list metric</tspan></text>
<text transform="translate(377.32,346.00) rotate(-90) scale(0.8373,1)" font-size="7.90" fill="#231f20" stroke="#231f20" stroke-width="0.08" text-anchor="middle"><tspan y="0">(PreRanked)</tspan></text>
<text transform="translate(415.00,383.80) scale(0.7495,1)" font-size="9.40" fill="#231f20" stroke="#231f20" stroke-width="0.08"><tspan y="0">Rank in ordered dataset</tspan></text>
<line x1="392.00" y1="390.80" x2="396.80" y2="390.80" stroke="#9ccc6c" stroke-width="1"/>
<text transform="translate(398.70,392.60) scale(0.8313,1)" font-size="5.00" fill="#888" stroke="#888" stroke-width="0.08"><tspan y="0">Enrichment profile</tspan></text>
<line x1="439.20" y1="390.80" x2="443.90" y2="390.80" stroke="#555" stroke-width="1.4"/>
<text transform="translate(445.80,392.60) scale(0.9755,1)" font-size="5.00" fill="#888" stroke="#888" stroke-width="0.08"><tspan y="0">Hits</tspan></text>
<line x1="459.70" y1="390.80" x2="467.20" y2="390.80" stroke="#aaa" stroke-width="0.6"/>
<text transform="translate(472.20,392.60) scale(0.7966,1)" font-size="5.00" fill="#888" stroke="#888" stroke-width="0.08"><tspan y="0">Ranking metric scores</tspan></text>
<line x1="48.00" y1="474.80" x2="48.00" y2="586.70" stroke="#231f20" stroke-width="1"/>
<line x1="47.50" y1="586.20" x2="166.50" y2="586.20" stroke="#231f20" stroke-width="1"/>
<line x1="45.00" y1="586.20" x2="48.00" y2="586.20" stroke="#231f20" stroke-width="1"/>
<text transform="translate(38.73,589.19) scale(0.8000,1)" font-size="8.70" fill="#231f20" stroke="#231f20" stroke-width="0.08"><tspan y="0">0</tspan></text>
<line x1="45.00" y1="572.60" x2="48.00" y2="572.60" stroke="#231f20" stroke-width="1"/>
<text transform="translate(32.92,575.59) scale(0.8000,1)" font-size="8.70" fill="#231f20" stroke="#231f20" stroke-width="0.08"><tspan y="0">0.2</tspan></text>
<line x1="45.00" y1="559.00" x2="48.00" y2="559.00" stroke="#231f20" stroke-width="1"/>
<text transform="translate(32.92,561.99) scale(0.8000,1)" font-size="8.70" fill="#231f20" stroke="#231f20" stroke-width="0.08"><tspan y="0">0.4</tspan></text>
<line x1="45.00" y1="545.40" x2="48.00" y2="545.40" stroke="#231f20" stroke-width="1"/>
<text transform="translate(32.92,548.39) scale(0.8000,1)" font-size="8.70" fill="#231f20" stroke="#231f20" stroke-width="0.08"><tspan y="0">0.6</tspan></text>
<line x1="45.00" y1="531.80" x2="48.00" y2="531.80" stroke="#231f20" stroke-width="1"/>
<text transform="translate(32.92,534.79) scale(0.8000,1)" font-size="8.70" fill="#231f20" stroke="#231f20" stroke-width="0.08"><tspan y="0">0.8</tspan></text>
<line x1="45.00" y1="518.20" x2="48.00" y2="518.20" stroke="#231f20" stroke-width="1"/>
<text transform="translate(38.73,521.19) scale(0.8000,1)" font-size="8.70" fill="#231f20" stroke="#231f20" stroke-width="0.08"><tspan y="0">1</tspan></text>
<line x1="45.00" y1="504.60" x2="48.00" y2="504.60" stroke="#231f20" stroke-width="1"/>
<text transform="translate(32.92,507.59) scale(0.8000,1)" font-size="8.70" fill="#231f20" stroke="#231f20" stroke-width="0.08"><tspan y="0">1.2</tspan></text>
<line x1="45.00" y1="491.00" x2="48.00" y2="491.00" stroke="#231f20" stroke-width="1"/>
<text transform="translate(32.92,493.99) scale(0.8000,1)" font-size="8.70" fill="#231f20" stroke="#231f20" stroke-width="0.08"><tspan y="0">1.4</tspan></text>
<line x1="45.00" y1="477.40" x2="48.00" y2="477.40" stroke="#231f20" stroke-width="1"/>
<text transform="translate(32.92,480.39) scale(0.8000,1)" font-size="8.70" fill="#231f20" stroke="#231f20" stroke-width="0.08"><tspan y="0">1.6</tspan></text>
<line x1="48.00" y1="586.20" x2="48.00" y2="589.00" stroke="#231f20" stroke-width="1"/>
<line x1="71.80" y1="586.20" x2="71.80" y2="589.00" stroke="#231f20" stroke-width="1"/>
<line x1="95.20" y1="586.20" x2="95.20" y2="589.00" stroke="#231f20" stroke-width="1"/>
<line x1="118.30" y1="586.20" x2="118.30" y2="589.00" stroke="#231f20" stroke-width="1"/>
<line x1="141.80" y1="586.20" x2="141.80" y2="589.00" stroke="#231f20" stroke-width="1"/>
<line x1="165.20" y1="586.20" x2="165.20" y2="589.00" stroke="#231f20" stroke-width="1"/>
<text transform="translate(58.05,598.60) scale(0.8800,1)" font-size="8.80" fill="#231f20" stroke="#231f20" stroke-width="0.08"><tspan y="0">0</tspan></text>
<text transform="translate(80.95,598.60) scale(0.8800,1)" font-size="8.80" fill="#231f20" stroke="#231f20" stroke-width="0.08"><tspan y="0">3</tspan></text>
<text transform="translate(104.65,598.60) scale(0.8800,1)" font-size="8.80" fill="#231f20" stroke="#231f20" stroke-width="0.08"><tspan y="0">6</tspan></text>
<text transform="translate(125.39,598.60) scale(0.8800,1)" font-size="8.80" fill="#231f20" stroke="#231f20" stroke-width="0.08"><tspan y="0">10</tspan></text>
<text transform="translate(148.79,598.60) scale(0.8800,1)" font-size="8.80" fill="#231f20" stroke="#231f20" stroke-width="0.08"><tspan y="0">14</tspan></text>
<text transform="translate(98.70,611.80) scale(0.9208,1)" font-size="9.20" fill="#231f20" stroke="#231f20" stroke-width="0.08"><tspan y="0">Days</tspan></text>
<text transform="translate(26.36,530.30) rotate(-90) scale(1.0014,1)" font-size="9.20" fill="#231f20" stroke="#231f20" stroke-width="0.08" text-anchor="middle"><tspan y="0">Relative growth</tspan></text>
<text transform="translate(70.30,453.20) scale(0.8819,1)" font-size="9.80" fill="#231f20" stroke="#231f20" stroke-width="0.08"><tspan y="0">Karpas 299 cells</tspan></text>
<line x1="64.30" y1="455.60" x2="140.00" y2="455.60" stroke="#231f20" stroke-width="0.9"/>
<line x1="83.30" y1="507.40" x2="83.30" y2="520.50" stroke="#333" stroke-width="1"/>
<line x1="81.60" y1="507.40" x2="85.00" y2="507.40" stroke="#333" stroke-width="1"/>
<line x1="81.60" y1="520.50" x2="85.00" y2="520.50" stroke="#333" stroke-width="1"/>
<line x1="106.60" y1="501.80" x2="106.60" y2="518.00" stroke="#333" stroke-width="1"/>
<line x1="104.90" y1="501.80" x2="108.30" y2="501.80" stroke="#333" stroke-width="1"/>
<line x1="104.90" y1="518.00" x2="108.30" y2="518.00" stroke="#333" stroke-width="1"/>
<line x1="129.60" y1="496.50" x2="129.60" y2="514.30" stroke="#333" stroke-width="1"/>
<line x1="127.90" y1="496.50" x2="131.30" y2="496.50" stroke="#333" stroke-width="1"/>
<line x1="127.90" y1="514.30" x2="131.30" y2="514.30" stroke="#333" stroke-width="1"/>
<line x1="153.20" y1="489.20" x2="153.20" y2="510.40" stroke="#333" stroke-width="1"/>
<line x1="151.50" y1="489.20" x2="154.90" y2="489.20" stroke="#333" stroke-width="1"/>
<line x1="151.50" y1="510.40" x2="154.90" y2="510.40" stroke="#333" stroke-width="1"/>
<line x1="106.60" y1="524.20" x2="106.60" y2="530.20" stroke="#333" stroke-width="1"/>
<line x1="104.90" y1="524.20" x2="108.30" y2="524.20" stroke="#333" stroke-width="1"/>
<line x1="104.90" y1="530.20" x2="108.30" y2="530.20" stroke="#333" stroke-width="1"/>
<line x1="153.20" y1="535.80" x2="153.20" y2="546.30" stroke="#333" stroke-width="1"/>
<line x1="151.50" y1="535.80" x2="154.90" y2="535.80" stroke="#333" stroke-width="1"/>
<line x1="151.50" y1="546.30" x2="154.90" y2="546.30" stroke="#333" stroke-width="1"/>
<polyline points="60.20,520.20 83.30,518.80 106.60,527.00 129.60,534.50 153.20,541.20" fill="none" stroke="#a03543" stroke-width="1.7" stroke-linejoin="round"/>
<rect x="57.40" y="517.40" width="5.60" height="5.60" fill="#a03543"/>
<rect x="80.50" y="516.00" width="5.60" height="5.60" fill="#a03543"/>
<rect x="103.80" y="524.20" width="5.60" height="5.60" fill="#a03543"/>
<rect x="126.80" y="531.70" width="5.60" height="5.60" fill="#a03543"/>
<rect x="150.40" y="538.40" width="5.60" height="5.60" fill="#a03543"/>
<polyline points="60.20,520.00 83.30,514.30 106.60,510.00 129.60,505.80 153.20,500.50" fill="none" stroke="#72b343" stroke-width="1.6" stroke-linejoin="round"/>
<polygon points="57.40,522.20 63.00,522.20 60.20,517.20" fill="#72b343"/>
<polygon points="80.50,516.50 86.10,516.50 83.30,511.50" fill="#72b343"/>
<polygon points="103.80,512.20 109.40,512.20 106.60,507.20" fill="#72b343"/>
<polygon points="126.80,508.00 132.40,508.00 129.60,503.00" fill="#72b343"/>
<polygon points="150.40,502.70 156.00,502.70 153.20,497.70" fill="#72b343"/>
<text transform="translate(105.20,501.70) scale(0.8994,1)" font-size="8.00" fill="#231f20" stroke="#231f20" stroke-width="0.08"><tspan y="0">*</tspan></text>
<text transform="translate(128.20,497.00) scale(0.8994,1)" font-size="8.00" fill="#231f20" stroke="#231f20" stroke-width="0.08"><tspan y="0">*</tspan></text>
<text transform="translate(151.80,489.50) scale(0.8994,1)" font-size="8.00" fill="#231f20" stroke="#231f20" stroke-width="0.08"><tspan y="0">*</tspan></text>
<line x1="54.60" y1="467.00" x2="68.50" y2="467.00" stroke="#a03543" stroke-width="1.3"/>
<rect x="59.30" y="464.80" width="4.40" height="4.40" fill="#a03543"/>
<text transform="translate(72.00,470.00) scale(0.8477,1)" font-size="8.80" fill="#231f20" stroke="#231f20" stroke-width="0.08"><tspan y="0" font-style="italic">MSC</tspan><tspan font-size="6.16" y="-3.52">wt</tspan></text>
<line x1="107.70" y1="467.00" x2="122.70" y2="467.00" stroke="#72b343" stroke-width="1.2"/>
<polygon points="112.40,469.00 117.60,469.00 115,464.40" fill="#72b343"/>
<text transform="translate(125.00,470.00) scale(0.8246,1)" font-size="8.80" fill="#231f20" stroke="#231f20" stroke-width="0.08"><tspan y="0" font-style="italic">MSC</tspan><tspan font-size="6.16" y="-3.52">E116K</tspan></text>
<line x1="227.00" y1="459.20" x2="227.00" y2="588.70" stroke="#231f20" stroke-width="1"/>
<line x1="226.50" y1="588.20" x2="312.40" y2="588.20" stroke="#231f20" stroke-width="1"/>
<line x1="224.00" y1="588.20" x2="227.00" y2="588.20" stroke="#231f20" stroke-width="1"/>
<text transform="translate(216.93,591.19) scale(0.8000,1)" font-size="8.70" fill="#231f20" stroke="#231f20" stroke-width="0.08"><tspan y="0">0</tspan></text>
<line x1="224.00" y1="575.20" x2="227.00" y2="575.20" stroke="#231f20" stroke-width="1"/>
<text transform="translate(211.12,578.19) scale(0.8000,1)" font-size="8.70" fill="#231f20" stroke="#231f20" stroke-width="0.08"><tspan y="0">0.2</tspan></text>
<line x1="224.00" y1="562.20" x2="227.00" y2="562.20" stroke="#231f20" stroke-width="1"/>
<text transform="translate(211.12,565.19) scale(0.8000,1)" font-size="8.70" fill="#231f20" stroke="#231f20" stroke-width="0.08"><tspan y="0">0.4</tspan></text>
<line x1="224.00" y1="549.20" x2="227.00" y2="549.20" stroke="#231f20" stroke-width="1"/>
<text transform="translate(211.12,552.19) scale(0.8000,1)" font-size="8.70" fill="#231f20" stroke="#231f20" stroke-width="0.08"><tspan y="0">0.6</tspan></text>
<line x1="224.00" y1="536.20" x2="227.00" y2="536.20" stroke="#231f20" stroke-width="1"/>
<text transform="translate(211.12,539.19) scale(0.8000,1)" font-size="8.70" fill="#231f20" stroke="#231f20" stroke-width="0.08"><tspan y="0">0.8</tspan></text>
<line x1="224.00" y1="523.20" x2="227.00" y2="523.20" stroke="#231f20" stroke-width="1"/>
<text transform="translate(216.93,526.19) scale(0.8000,1)" font-size="8.70" fill="#231f20" stroke="#231f20" stroke-width="0.08"><tspan y="0">1</tspan></text>
<line x1="224.00" y1="510.20" x2="227.00" y2="510.20" stroke="#231f20" stroke-width="1"/>
<text transform="translate(211.12,513.19) scale(0.8000,1)" font-size="8.70" fill="#231f20" stroke="#231f20" stroke-width="0.08"><tspan y="0">1.2</tspan></text>
<line x1="224.00" y1="497.20" x2="227.00" y2="497.20" stroke="#231f20" stroke-width="1"/>
<text transform="translate(211.12,500.19) scale(0.8000,1)" font-size="8.70" fill="#231f20" stroke="#231f20" stroke-width="0.08"><tspan y="0">1.4</tspan></text>
<line x1="224.00" y1="484.20" x2="227.00" y2="484.20" stroke="#231f20" stroke-width="1"/>
<text transform="translate(211.12,487.19) scale(0.8000,1)" font-size="8.70" fill="#231f20" stroke="#231f20" stroke-width="0.08"><tspan y="0">1.6</tspan></text>
<line x1="224.00" y1="471.20" x2="227.00" y2="471.20" stroke="#231f20" stroke-width="1"/>
<text transform="translate(211.12,474.19) scale(0.8000,1)" font-size="8.70" fill="#231f20" stroke="#231f20" stroke-width="0.08"><tspan y="0">1.8</tspan></text>
<line x1="268.00" y1="588.20" x2="268.00" y2="591.00" stroke="#231f20" stroke-width="1"/>
<rect x="239.20" y="523.20" width="16.10" height="65.00" fill="#a03543"/>
<line x1="247.30" y1="518.50" x2="247.30" y2="523.20" stroke="#333" stroke-width="1"/>
<line x1="245.70" y1="518.50" x2="248.90" y2="518.50" stroke="#333" stroke-width="1"/>
<rect x="281.00" y="495.90" width="16.00" height="92.30" fill="#a03543"/>
<line x1="289.00" y1="466.30" x2="289.00" y2="496.00" stroke="#333" stroke-width="1"/>
<line x1="287.40" y1="466.30" x2="290.60" y2="466.30" stroke="#333" stroke-width="1"/>
<text transform="translate(244.00,453.00) scale(0.9020,1)" font-size="9.80" fill="#231f20" stroke="#231f20" stroke-width="0.08"><tspan y="0">Mac-1 cells</tspan></text>
<line x1="240.80" y1="455.20" x2="292.10" y2="455.20" stroke="#231f20" stroke-width="0.9"/>
<text transform="translate(239.80,471.40) scale(0.8197,1)" font-size="8.70" fill="#231f20" stroke="#231f20" stroke-width="0.08"><tspan y="0">P = 0.001</tspan></text>
<text transform="translate(204.80,601.30) scale(0.7848,1)" font-size="8.60" fill="#231f20" stroke="#231f20" stroke-width="0.08"><tspan y="0">siRNA:</tspan></text>
<text transform="translate(239.40,601.30) scale(0.6946,1)" font-size="8.60" fill="#231f20" stroke="#231f20" stroke-width="0.08"><tspan y="0">CTRL</tspan></text>
<text transform="translate(281.00,601.30) scale(0.8058,1)" font-size="8.60" fill="#231f20" stroke="#231f20" stroke-width="0.08"><tspan y="0">MSC</tspan></text>
<text transform="translate(203.76,523.30) rotate(-90) scale(1.0093,1)" font-size="9.20" fill="#231f20" stroke="#231f20" stroke-width="0.08" text-anchor="middle"><tspan y="0">Relative growth</tspan></text>
<rect x="384.30" y="477.50" width="81.70" height="19.00" fill="#e3e3e3"/>
<rect x="384.30" y="500.00" width="81.70" height="18.10" fill="#dfdfdf"/>
<g filter="url(#blur2)">
<rect x="386.50" y="508.20" width="37.00" height="7.00" fill="#ababab" rx="2"/>
<rect x="427.00" y="508.20" width="37.50" height="7.00" fill="#ababab" rx="2"/>
</g>
<g filter="url(#blur1)">
<rect x="387.30" y="485.20" width="32.50" height="2.80" fill="#3c3c3c" rx="1.4"/>
<rect x="427.60" y="485.90" width="33.00" height="2.40" fill="#a8a8a8" rx="1.2"/>
<rect x="385.50" y="505.50" width="38.60" height="3.30" fill="#474747" rx="1.4"/>
<rect x="426.40" y="505.50" width="38.40" height="3.30" fill="#474747" rx="1.4"/>
</g>
<text transform="translate(359.20,472.50) scale(0.7779,1)" font-size="8.80" fill="#231f20" stroke="#231f20" stroke-width="0.08"><tspan y="0">siRNA:</tspan></text>
<text transform="translate(393.80,472.50) scale(0.7049,1)" font-size="8.80" fill="#231f20" stroke="#231f20" stroke-width="0.08"><tspan y="0">CTRL</tspan></text>
<text transform="translate(436.50,472.50) scale(0.7363,1)" font-size="8.80" fill="#231f20" stroke="#231f20" stroke-width="0.08"><tspan y="0">MSC</tspan></text>
<text transform="translate(357.00,490.00) scale(0.7666,1)" font-size="8.00" fill="#231f20" stroke="#231f20" stroke-width="0.08"><tspan y="0">musculin</tspan></text>
<text transform="translate(362.70,511.90) scale(0.7656,1)" font-size="8.00" fill="#231f20" stroke="#231f20" stroke-width="0.08"><tspan y="0">β-actin</tspan></text>
<rect x="0.00" y="0.00" width="520.00" height="1.60" fill="#3c3c3c"/>
<rect x="0.00" y="0.00" width="1.50" height="622.00" fill="#3c3c3c"/>
<rect x="519.00" y="0.00" width="1.00" height="622.00" fill="#111"/>
<rect x="0.00" y="620.00" width="520.00" height="2.00" fill="#444"/>
</svg>
</body></html>
